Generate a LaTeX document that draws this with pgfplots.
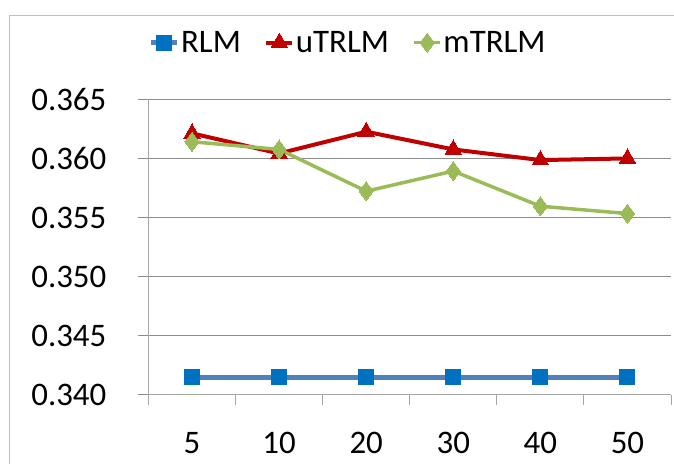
\documentclass[border=0pt]{standalone}
\usepackage{fontspec}
\setmainfont{Carlito}
\usepackage{pgfplots}
\pgfplotsset{compat=1.18}
\definecolor{rlmline}{HTML}{4F81BD}
\definecolor{rlmmark}{HTML}{0070C0}
\definecolor{ured}{HTML}{C00000}
\definecolor{mgreen}{HTML}{9BBB59}
\definecolor{gridc}{HTML}{8C8C8C}
\definecolor{axisc}{HTML}{A6A6A6}
\definecolor{borderc}{HTML}{BFBFBF}
\begin{document}
\begin{tikzpicture}[x=1bp,y=1bp]
\path[use as bounding box] (0,0) rectangle (674,464);
\draw[borderc, line width=1bp] (9.5,0) -- (9.5,448.5) -- (674,448.5);
\begin{axis}[
  at={(148.5bp,69bp)}, anchor=south west,
  width=522.5bp, height=295.7bp, scale only axis,
  xmin=-0.5, xmax=5.5, ymin=0.340, ymax=0.365,
  xtick={0,1,2,3,4,5},
  xticklabels={5,10,20,30,40,50},
  minor xtick={-0.5,0.5,1.5,2.5,3.5,4.5,5.5},
  ytick={0.340,0.345,0.350,0.355,0.360,0.365},
  /pgf/number format/assume math mode=true,
  y tick label style={/pgf/number format/fixed, /pgf/number format/zerofill, /pgf/number format/precision=3},
  scaled y ticks=false,
  tick label style={font=\fontsize{33}{40}\selectfont, inner sep=0pt},
  yticklabel style={anchor=east},
  xticklabel style={anchor=north},
  yticklabel shift=31.5bp,
  xticklabel shift=26.5bp,
  tick align=outside,
  major tick length=10.5bp, minor tick length=10.5bp,
  xtick pos=bottom, ytick pos=left,
  x tick style={draw=none},
  minor x tick style={draw=axisc, line width=1bp},
  y tick style={draw=gridc, line width=1bp},
  ymajorgrids, grid style={gridc, line width=1bp},
  axis x line*=bottom, axis y line*=left,
  axis line style={axisc, line width=1bp, -},
  legend style={at={(0.382,1.192)}, anchor=center, draw=none, fill=none,
    font=\fontsize{33}{40}\selectfont, inner sep=0pt,
    /tikz/every even column/.append style={column sep=22bp},
    nodes={inner sep=1.5bp}},
  legend columns=-1,
  legend image code/.code={\draw[mark repeat=2,mark phase=2] plot coordinates {(0bp,0bp) (13bp,0bp) (26bp,0bp)};},
  clip=false,
]
\addplot[rlmline, line width=4.5bp, mark=square*, mark size=7.5bp, mark options={fill=rlmmark, draw=rlmmark, line width=0pt}]
  coordinates {(0,0.3415) (1,0.3415) (2,0.3415) (3,0.3415) (4,0.3415) (5,0.3415)};
\addplot[ured, line width=4bp, mark=triangle*, mark size=9.5bp, mark options={fill=ured, draw=ured, line width=0pt}]
  coordinates {(0,0.36212) (1,0.36042) (2,0.36226) (3,0.36076) (4,0.35986) (5,0.3600)};
\addplot[mgreen, line width=3.5bp, mark=diamond*, mark size=9.5bp, mark options={fill=mgreen, draw=mgreen, line width=0pt}]
  coordinates {(0,0.36141) (1,0.36076) (2,0.35723) (3,0.35893) (4,0.35596) (5,0.35534)};
\legend{RLM,uTRLM,mTRLM}
\end{axis}
\end{tikzpicture}
\end{document}
